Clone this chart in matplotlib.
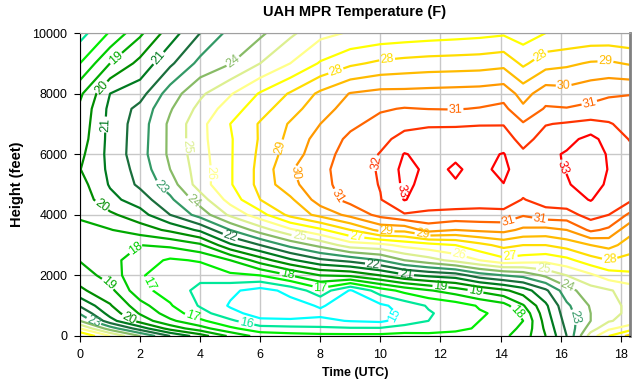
import numpy as np
import matplotlib
matplotlib.use('Agg')
import matplotlib.pyplot as plt

plt.rcParams['font.family'] = ['Liberation Sans', 'DejaVu Sans']

# profile times (UTC hours) and heights (feet)
time_utc = [0, 1, 2, 3, 4, 5, 6, 7, 8, 9, 10, 10.8, 11.6, 12.5, 13.3, 14.1,
            14.75, 15.5, 16.2, 17, 17.6, 18.3]
height_ft = [0, 250, 500, 750, 1000, 1500, 2000, 2500, 3000, 3500, 4000,
             4500, 5000, 5500, 6000, 6500, 7000, 7500, 8000, 9000, 10000]

# temperature (F) at each height, one value per profile time
t_00000 = [28.0, 26.0, 24.0, 22.0, 20.5, 18.8, 17.6, 17.4, 17.3, 17.3, 17.3, 17.4, 17.3, 17.3, 17.4, 17.8, 18.5, 20.0, 22.0, 25.5, 27.0, 28.3]
t_00250 = [26.0, 23.5, 21.5, 19.6, 18.4, 17.2, 16.4, 16.3, 16.2, 16.1, 16.1, 16.4, 16.5, 16.8, 17.1, 17.6, 18.2, 20.2, 22.2, 24.5, 25.8, 26.5]
t_00500 = [24.0, 21.4, 19.6, 18.2, 17.2, 16.2, 15.2, 15.1, 15.2, 14.95, 14.8, 15.5, 16.0, 16.5, 17.0, 17.4, 18.0, 20.4, 22.4, 24.0, 24.9, 25.4]
t_00750 = [22.9, 20.6, 18.9, 17.5, 16.4, 15.3, 14.6, 14.7, 14.8, 14.6, 14.6, 15.2, 15.9, 16.4, 16.9, 17.2, 18.3, 20.6, 22.6, 24.0, 24.7, 25.2]
t_01000 = [21.9, 20.1, 18.4, 17.1, 15.9, 14.9, 14.4, 14.6, 15.1, 14.5, 14.8, 15.4, 16.1, 16.5, 17.1, 17.6, 18.9, 20.8, 22.8, 24.1, 24.7, 25.2]
t_01500 = [20.2, 19.3, 17.3, 16.6, 15.7, 15.2, 14.6, 15.3, 16.6, 14.9, 16.5, 17.3, 17.9, 18.5, 19.2, 19.8, 20.5, 21.8, 23.6, 24.6, 24.9, 25.4]
t_02000 = [19.5, 18.6, 17.1, 16.5, 16.3, 16.8, 17.0, 18.0, 19.0, 19.2, 20.0, 20.8, 21.2, 21.5, 22.5, 23.0, 23.3, 24.2, 25.0, 25.8, 26.5, 26.8]
t_02500 = [18.95, 18.3, 17.5, 16.85, 17.1, 18.0, 19.5, 20.8, 21.8, 22.3, 23.0, 24.0, 24.6, 25.3, 26.0, 26.7, 26.5, 26.3, 26.7, 27.6, 28.0, 27.6]
t_03000 = [18.6, 18.4, 18.0, 18.2, 18.8, 20.8, 22.0, 23.3, 24.3, 25.5, 25.7, 26.3, 26.6, 27.0, 27.7, 28.3, 28.0, 28.0, 28.4, 29.0, 29.3, 28.6]
t_03500 = [18.8, 18.95, 19.5, 20.2, 21.2, 23.0, 24.5, 25.8, 26.8, 28.0, 29.3, 29.3, 30.4, 30.0, 30.2, 30.3, 29.8, 29.7, 30.0, 31.2, 30.8, 29.3]
t_04000 = [19.1, 19.8, 20.6, 22.0, 23.4, 25.2, 26.6, 28.3, 29.3, 30.3, 31.3, 31.9, 31.8, 31.7, 31.7, 31.7, 31.1, 31.6, 31.6, 32.4, 32.0, 30.8]
t_04500 = [19.4, 20.7, 21.5, 22.8, 24.5, 26.4, 28.0, 28.8, 30.5, 31.3, 31.95, 33.05, 32.5, 32.5, 32.4, 32.5, 31.95, 32.4, 32.6, 33.05, 32.5, 32.2]
t_05000 = [19.6, 21.1, 22.2, 23.5, 25.5, 26.9, 28.3, 29.7, 30.7, 31.45, 32.05, 33.2, 32.7, 32.95, 32.7, 32.98, 32.4, 32.6, 32.9, 33.5, 32.8, 32.3]
t_05500 = [19.97, 21.2, 22.4, 24.0, 25.5, 26.9, 28.3, 29.9, 30.75, 31.5, 32.1, 33.3, 32.8, 33.08, 32.8, 33.2, 32.5, 32.8, 33.05, 33.6, 32.95, 32.5]
t_06000 = [19.75, 21.3, 22.6, 24.2, 25.6, 26.9, 28.2, 29.5, 30.6, 31.4, 32.05, 33.05, 32.7, 32.9, 32.75, 33.05, 32.2, 32.75, 33.1, 33.5, 32.9, 32.3]
t_06500 = [19.5, 21.3, 22.55, 24.2, 25.7, 26.9, 28.1, 29.3, 30.4, 31.2, 31.75, 32.3, 32.35, 32.4, 32.4, 32.45, 31.65, 32.4, 32.7, 33.3, 32.6, 31.95]
t_07000 = [19.35, 21.3, 22.5, 24.2, 25.7, 27.0, 28.1, 29.1, 30.0, 30.8, 31.3, 31.75, 31.9, 31.9, 31.95, 31.95, 31.1, 31.95, 32.1, 32.3, 32.1, 31.6]
t_07500 = [19.2, 21.25, 22.3, 23.9, 25.3, 26.5, 27.6, 28.6, 29.6, 30.4, 30.9, 31.05, 30.98, 30.95, 31.05, 31.25, 30.2, 31.1, 31.05, 31.2, 31.3, 31.45]
t_08000 = [18.8, 21.0, 21.6, 23.5, 24.8, 25.9, 27.1, 28.1, 29.2, 30.05, 30.3, 30.3, 30.35, 30.4, 30.45, 30.6, 29.6, 30.55, 30.4, 30.7, 30.9, 30.95]
t_09000 = [17.0, 19.0, 20.3, 21.8, 23.3, 23.95, 25.0, 26.0, 27.1, 27.8, 28.2, 28.35, 28.45, 28.5, 28.55, 28.7, 27.8, 28.6, 28.8, 29.1, 29.15, 28.9]
t_10000 = [15.6, 17.1, 18.8, 20.5, 22.0, 23.3, 23.8, 24.8, 25.7, 26.1, 26.3, 26.4, 26.5, 26.6, 26.7, 26.85, 26.5, 27.0, 27.1, 27.2, 27.2, 27.1]

temp_f = np.array([t_00000, t_00250, t_00500, t_00750, t_01000, t_01500,
                   t_02000, t_02500, t_03000, t_03500, t_04000, t_04500,
                   t_05000, t_05500, t_06000, t_06500, t_07000, t_07500,
                   t_08000, t_09000, t_10000])

levels = list(range(15, 34))
level_colors = ['#00ffff', '#00e899', '#00ee00', '#00cc00', '#00aa00',
                '#008c00', '#007a20', '#1a6e3c', '#339966', '#88bb66',
                '#dcef90', '#ffff88', '#ffff00', '#ffdd00', '#ffbb00',
                '#ff9900', '#ff6600', '#ff3300', '#ff0000']

# approximate spots of the contour labels (time, height)
label_spots = [(1.2, 9170), (0.83, 8120), (2.7, 9100), (1.2, 6970), (5.15, 9000),
               (3.5, 6260), (4.3, 5370), (0.9, 4550), (2.7, 4930), (3.8, 4490),
               (8.5, 8790), (10.2, 9370), (6.6, 6250), (7.25, 5430), (8.4, 4550),
               (9.9, 5700), (10.6, 4770), (12.5, 7470), (15.4, 9170), (16.1, 8220),
               (17.5, 8880), (17.0, 7470), (15.85, 5540), (14.2, 3940), (15.3, 3780),
               (11.4, 3340), (10.2, 3500), (9.2, 3280), (7.3, 3280), (5.0, 3280),
               (1.83, 2900), (0.95, 1740), (2.1, 1630), (0.47, 530), (1.6, 530),
               (3.8, 800), (5.55, 470), (10.5, 640), (6.9, 2020), (8.0, 1520),
               (9.75, 2350), (10.85, 1960), (12.0, 1650), (13.15, 1410), (14.4, 640),
               (12.6, 2620), (14.3, 2620), (15.45, 2290), (16.25, 1690), (16.7, 690),
               (17.6, 2620)]

fig = plt.figure(figsize=(6.4, 3.84), dpi=100)
ax = fig.add_axes([0.125, 0.125, 0.859, 0.789])

ax.grid(True, color='#c8c8c8', linewidth=1.0)
ax.set_axisbelow(True)

cs = ax.contour(time_utc, height_ft, temp_f, levels=levels, colors=level_colors,
                linewidths=1.6)
ax.clabel(cs, fmt='%d', fontsize=9, inline=True, inline_spacing=1,
          manual=label_spots)

ax.set_xlim(0, 18.3)
ax.set_ylim(0, 10000)
ax.set_xticks(range(0, 19, 2))
ax.set_yticks(range(0, 10001, 2000))
ax.tick_params(direction='out', length=4, labelsize=9, pad=5)

for side in ['left', 'bottom']:
    ax.spines[side].set_color('black')
    ax.spines[side].set_linewidth(0.8)
ax.spines['top'].set_color('#a0a0a0')
ax.spines['right'].set_color('#808080')
ax.spines['right'].set_linewidth(2.0)

ax.set_title('UAH MPR Temperature (F)', fontsize=10.5, fontweight='bold', pad=12)
ax.set_xlabel('Time (UTC)', fontsize=9, fontweight='bold', labelpad=5)
ax.set_ylabel('Height (feet)', fontsize=10.5, fontweight='bold', labelpad=6)

fig.savefig('out.png', dpi=100)
